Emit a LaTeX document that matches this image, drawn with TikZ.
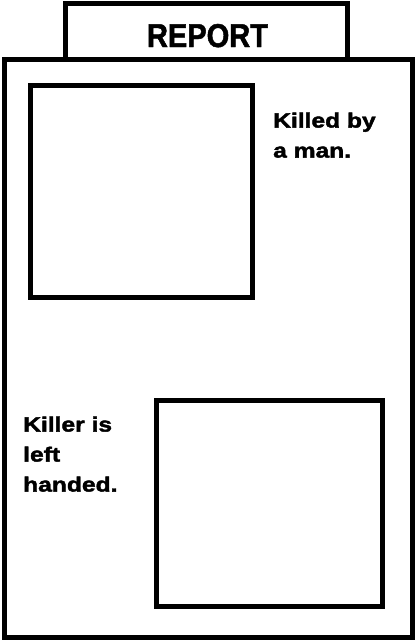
\documentclass[tikz,border=0pt]{standalone}
\usepackage{fontspec}
\usepackage{tikz}
\setmainfont{Liberation Sans}
\newfontfamily\titlefont[FakeStretch=0.88, FakeBold=1.5]{Liberation Sans Bold}
\newfontfamily\notefont[FakeStretch=1.2, FakeBold=2]{Liberation Sans Bold}
\tikzset{
    frame/.style={draw=black, line width=5pt, fill=white},
    note/.style={anchor=north west, inner sep=0pt, align=left,
        font=\notefont\fontsize{20.5}{30}\selectfont},
}
\begin{document}
\begin{tikzpicture}[x=1pt, y=-1pt]
            \useasboundingbox (0,0) rectangle (419,640);
            \fill[white] (0,0) rectangle (419,640);
            % folder and tab
            \draw[frame] (65.5,3) rectangle (347,59.5);
            \draw[frame] (4.5,59.5) rectangle (412,637);
            \node[anchor=base, inner sep=0pt, font=\titlefont\fontsize{33}{33}\selectfont] (title) at (207.5,47) {REPORT};
            % photo boxes
            \draw[frame] (30.5,85.5) rectangle (252,297);
            \draw[frame] (156.5,400.5) rectangle (382.5,606.5);
            \node[note] (clue1) at (273,112.5) {Killed by\\a man.};
            \node[note] (clue2) at (23,416.5) {Killer is\\left\\handed.};
\end{tikzpicture}
\end{document}
